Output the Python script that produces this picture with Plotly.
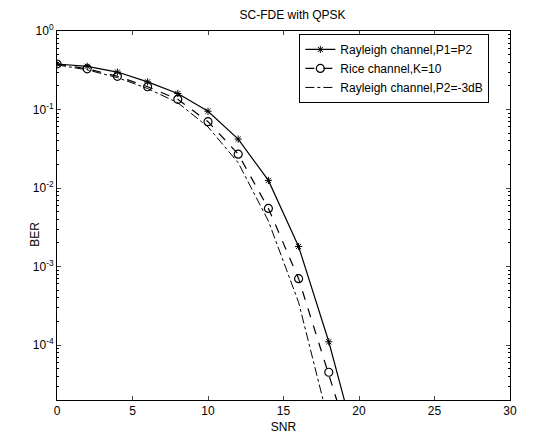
import plotly.graph_objects as go

snr = [0, 2, 4, 6, 8, 10, 12, 14, 16, 18, 20]
ber_rayleigh_eq = [0.38, 0.355, 0.30, 0.225, 0.16, 0.095, 0.042, 0.0125, 0.0018, 1.1e-4, 4e-6]
ber_rice_k10 = [0.38, 0.33, 0.265, 0.195, 0.135, 0.070, 0.027, 0.0055, 7e-4, 4.5e-5, 2.5e-6]
ber_rayleigh_3db = [0.37, 0.32, 0.255, 0.185, 0.122, 0.060, 0.021, 0.0038, 3.5e-4, 1.0e-5, 3e-7]

names = ["Rayleigh channel,P1=P2", "Rice channel,K=10", "Rayleigh channel,P2=-3dB"]

ytick_vals = [1, 0.1, 0.01, 0.001, 0.0001]
ytick_text = ["10<sup>0</sup>", "10<sup>-1</sup>", "10<sup>-2</sup>", "10<sup>-3</sup>", "10<sup>-4</sup>"]
xtick_vals = [0, 5, 10, 15, 20, 25, 30]

fig = go.Figure()
fig.add_trace(go.Scatter(x=snr, y=ber_rayleigh_eq, name=names[0], mode="lines+markers",
                         line=dict(color="black", width=1.2, dash="solid"),
                         marker=dict(symbol="asterisk-open", size=6, color="black",
                                     line=dict(color="black", width=1)),
                         cliponaxis=True))
fig.add_trace(go.Scatter(x=snr, y=ber_rice_k10, name=names[1], mode="lines+markers",
                         line=dict(color="black", width=1.2, dash="dash"),
                         marker=dict(symbol="circle-open", size=8, color="black",
                                     line=dict(color="black", width=1.2)),
                         cliponaxis=True))
fig.add_trace(go.Scatter(x=snr, y=ber_rayleigh_3db, name=names[2], mode="lines",
                         line=dict(color="black", width=1, dash="dashdot"),
                         cliponaxis=True))

# page body has an 8px margin: the figure is shifted by 8px, so it is 8px smaller
fig.update_layout(
    width=537, height=432,
    margin=dict(l=49, r=35, t=23, b=40, autoexpand=False),
    paper_bgcolor="white", plot_bgcolor="white",
    font=dict(family="Liberation Sans, Arial, sans-serif", size=12, color="black"),
    title=dict(text="SC-FDE with QPSK", x=0.53, xanchor="center", y=0.984, yanchor="middle",
               font=dict(size=12)),
    legend=dict(x=0.535, y=0.992, xanchor="left", yanchor="top",
                bgcolor="white", bordercolor="black", borderwidth=1,
                font=dict(size=12), tracegroupgap=0, itemwidth=30),
    showlegend=True,
    annotations=[dict(text="BER", textangle=-90, xref="paper", yref="paper",
                      x=-0.049, y=0.45, xanchor="center", yanchor="middle",
                      showarrow=False, font=dict(size=12))],
)
fig.update_xaxes(range=[0, 30], tickmode="array", tickvals=xtick_vals, ticks="inside", ticklen=4,
                 mirror="ticks", showline=True, linecolor="black", linewidth=1,
                 showgrid=False, zeroline=False, automargin=False,
                 tickfont=dict(size=12),
                 title=dict(text="SNR", standoff=5, font=dict(size=12)))
fig.update_yaxes(type="log", range=[-4.7, 0], tickmode="array", tickvals=ytick_vals, ticktext=ytick_text,
                 ticks="inside", ticklen=4, mirror="ticks", showline=True,
                 linecolor="black", linewidth=1, showgrid=False, zeroline=False, automargin=False,
                 tickfont=dict(size=12),
                 minor=dict(ticks="inside", ticklen=2, tickcolor="black", showgrid=False, dtick="D1"))

fig.write_html("out.html")
